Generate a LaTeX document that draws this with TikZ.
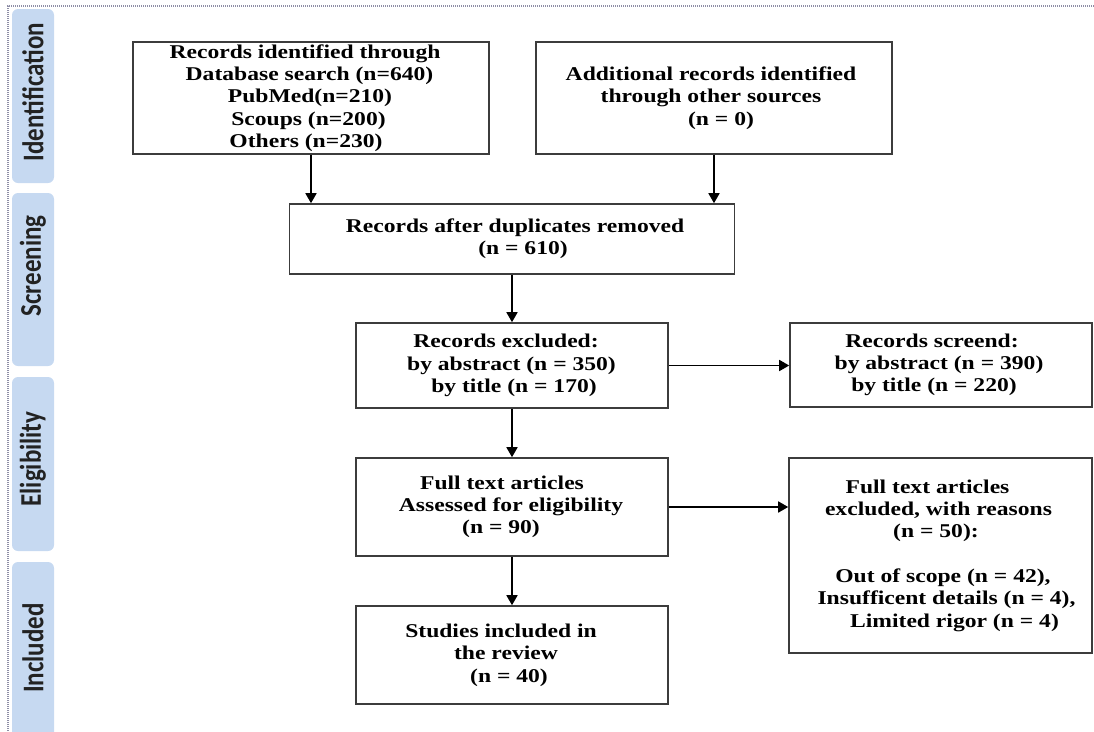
\documentclass[tikz,border=0pt]{standalone}
\usepackage{graphicx}
\usepackage{fontspec}
\setmainfont{Liberation Serif}[FakeStretch=1.21]
\newfontfamily\tabfont{Carlito}
\usetikzlibrary{arrows.meta}
\definecolor{tabblue}{HTML}{C6D9F1}
\definecolor{boxline}{HTML}{3C3C3C}
\definecolor{dotline}{HTML}{8E8EA6}
\definecolor{tabtextcol}{HTML}{222222}
\newcommand{\sh}[2]{\hspace*{#1}#2\hspace*{-#1}}
\begin{document}
\begin{tikzpicture}[x=1pt,y=-1pt,
  box/.style={draw=boxline, line width=1.6pt, align=center, inner sep=0pt,
    font=\bfseries\fontsize{19.5}{22.3}\selectfont},
  arr/.style={line width=1.7pt, -{Triangle[length=10pt,width=11pt]}},
  tabbox/.style={fill=tabblue, rounded corners=6pt},
  tablabel/.style={rotate=90, text=tabtextcol, inner sep=0pt,
    font=\tabfont\bfseries\fontsize{25}{30}\selectfont},
  border/.style={draw=dotline, line width=1.2pt, dash pattern=on 1pt off 1pt}]
\useasboundingbox (0,0) rectangle (1094,731);
\begin{scope}
\clip (0,0) rectangle (1094,731);
% dotted frame
\draw[border] (8,731) -- (8,6) -- (1094,6);
% side tabs
\fill[tabbox] (12,9) rectangle (54,183);
\fill[tabbox] (12,193) rectangle (54,366);
\fill[tabbox] (12,377) rectangle (54,551);
\fill[tabbox] (12,562) rectangle (54,760);
\node[tablabel] (t1) at (33,92) {\scalebox{1}[1.2]{Identification}};
\node[tablabel] (t2) at (33,266) {\scalebox{1}[1.2]{Screening}};
\node[tablabel] (t3) at (33,459) {\scalebox{1}[1.2]{Eligibility}};
\node[tablabel] (t4) at (33,648) {\scalebox{1}[1.2]{Included}};
\end{scope}
% boxes
\node[box, minimum width=356pt, minimum height=112pt] (a) at (311,98)
  {\sh{-6pt}{Records identified through}\\ \sh{-3pt}{Database search (n=640)}\\
   \sh{-2pt}{PubMed(n=210)}\\ \sh{-5pt}{Scoups (n=200)}\\ \sh{-5pt}{Others (n=230)}};
\node[box, minimum width=356pt, minimum height=112pt] (b) at (714,98)
  {\sh{-3pt}{Additional records identified}\\ \sh{-6pt}{through other sources}\\ \sh{7pt}{(n = 0)}};
\node[box, minimum width=445pt, minimum height=70pt] (c) at (512,239)
  {\sh{3pt}{Records after duplicates removed}\\ \sh{11pt}{(n = 610)}};
\node[box, minimum width=312pt, minimum height=85pt] (d) at (512,365.5)
  {\sh{-6pt}{Records excluded:}\\ \sh{-1pt}{by abstract (n = 350)}\\ \sh{2pt}{by title (n = 170)}};
\node[box, minimum width=302pt, minimum height=84pt] (e) at (941,365)
  {\sh{-9pt}{Records screend:}\\ \sh{-4pt}{by abstract (n = 390)}\\ \sh{-7pt}{by title (n = 220)}};
\node[box, minimum width=312pt, minimum height=98pt] (f) at (512,507)
  {\sh{-10pt}{Full text articles}\\ \sh{-2pt}{Assessed for eligibility}\\ \sh{-11pt}{(n = 90)}};
\node[box, minimum width=303pt, minimum height=195pt] (g) at (940.5,555.5)
  {\sh{-13pt}{Full text articles}\\ \sh{-4pt}{excluded, with reasons}\\ \sh{-9pt}{(n = 50):}\\[22.3pt]
   \sh{5pt}{Out of scope (n = 42),}\\ \sh{12pt}{Insufficent details (n = 4),}\\ \sh{14pt}{Limited rigor (n = 4)}};
\node[box, minimum width=312pt, minimum height=98pt] (h) at (512,655)
  {\sh{-11pt}{Studies included in}\\ \sh{-12pt}{the review}\\ \sh{-3pt}{(n = 40)}};
% connectors
\draw[arr] (a.south) -- (a.south |- c.north);
\draw[arr] (b.south) -- (b.south |- c.north);
\draw[arr] (c.south) -- (d.north);
\draw[arr] (d.east) -- (d.east -| e.west);
\draw[arr] (d.south) -- (f.north);
\draw[arr] (f.east) -- (f.east -| g.west);
\draw[arr] (f.south) -- (h.north);
\end{tikzpicture}
\end{document}
